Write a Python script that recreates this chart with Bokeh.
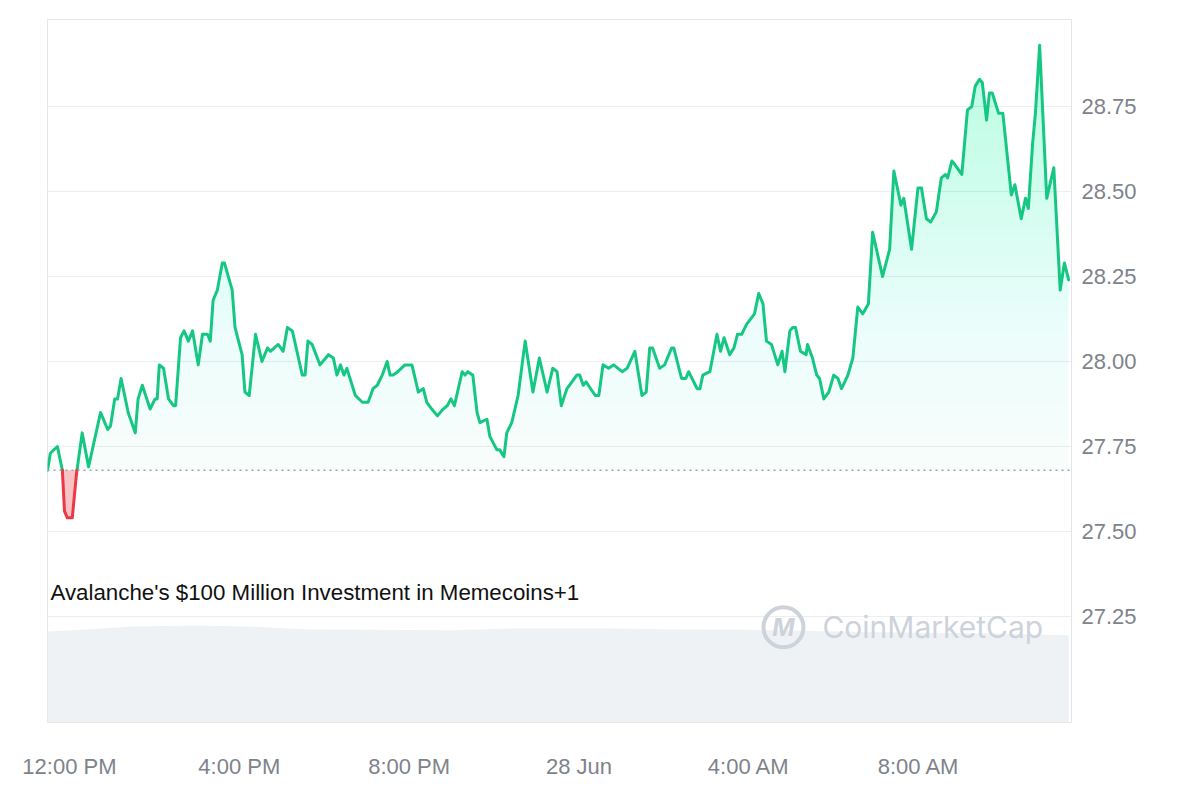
import numpy as np
import pandas as pd
from bokeh.plotting import figure
from bokeh.models import (Range1d, FixedTicker, CustomJSTickFormatter, Span, Label,
                          NumeralTickFormatter)
from bokeh.core.properties import value
from bokeh.embed import file_html
from bokeh.resources import INLINE

# ---------------- data ----------------
times = [
    "2024-06-27 11:29", "2024-06-27 11:33", "2024-06-27 11:43", "2024-06-27 11:50", "2024-06-27 11:53",
    "2024-06-27 11:57", "2024-06-27 12:04", "2024-06-27 12:10", "2024-06-27 12:18", "2024-06-27 12:27",
    "2024-06-27 12:44", "2024-06-27 12:54", "2024-06-27 12:58", "2024-06-27 13:04", "2024-06-27 13:08",
    "2024-06-27 13:13", "2024-06-27 13:23", "2024-06-27 13:33", "2024-06-27 13:37", "2024-06-27 13:43",
    "2024-06-27 13:54", "2024-06-27 14:01", "2024-06-27 14:04", "2024-06-27 14:07", "2024-06-27 14:13",
    "2024-06-27 14:20", "2024-06-27 14:27", "2024-06-27 14:30", "2024-06-27 14:37", "2024-06-27 14:42",
    "2024-06-27 14:48", "2024-06-27 14:54", "2024-06-27 15:02", "2024-06-27 15:08", "2024-06-27 15:15",
    "2024-06-27 15:19", "2024-06-27 15:23", "2024-06-27 15:29", "2024-06-27 15:36", "2024-06-27 15:39",
    "2024-06-27 15:50", "2024-06-27 15:54", "2024-06-27 16:04", "2024-06-27 16:08", "2024-06-27 16:14",
    "2024-06-27 16:23", "2024-06-27 16:32", "2024-06-27 16:40", "2024-06-27 16:44", "2024-06-27 16:55",
    "2024-06-27 17:02", "2024-06-27 17:08", "2024-06-27 17:15", "2024-06-27 17:29", "2024-06-27 17:33",
    "2024-06-27 17:37", "2024-06-27 17:43", "2024-06-27 17:54", "2024-06-27 18:06", "2024-06-27 18:13",
    "2024-06-27 18:18", "2024-06-27 18:23", "2024-06-27 18:28", "2024-06-27 18:32", "2024-06-27 18:44",
    "2024-06-27 18:54", "2024-06-27 19:02", "2024-06-27 19:09", "2024-06-27 19:15", "2024-06-27 19:22",
    "2024-06-27 19:29", "2024-06-27 19:33", "2024-06-27 19:37", "2024-06-27 19:44", "2024-06-27 19:54",
    "2024-06-27 20:04", "2024-06-27 20:13", "2024-06-27 20:20", "2024-06-27 20:25", "2024-06-27 20:32",
    "2024-06-27 20:40", "2024-06-27 20:48", "2024-06-27 20:54", "2024-06-27 20:59", "2024-06-27 21:04",
    "2024-06-27 21:15", "2024-06-27 21:19", "2024-06-27 21:23", "2024-06-27 21:30", "2024-06-27 21:36",
    "2024-06-27 21:40", "2024-06-27 21:50", "2024-06-27 21:54", "2024-06-27 22:04", "2024-06-27 22:08",
    "2024-06-27 22:14", "2024-06-27 22:18", "2024-06-27 22:25", "2024-06-27 22:34", "2024-06-27 22:44",
    "2024-06-27 22:55", "2024-06-27 23:04", "2024-06-27 23:15", "2024-06-27 23:23", "2024-06-27 23:29",
    "2024-06-27 23:35", "2024-06-27 23:43", "2024-06-27 23:57", "2024-06-28 00:01", "2024-06-28 00:06",
    "2024-06-28 00:10", "2024-06-28 00:23", "2024-06-28 00:28", "2024-06-28 00:34", "2024-06-28 00:42",
    "2024-06-28 00:49", "2024-06-28 01:01", "2024-06-28 01:08", "2024-06-28 01:19", "2024-06-28 01:29",
    "2024-06-28 01:35", "2024-06-28 01:40", "2024-06-28 01:44", "2024-06-28 01:54", "2024-06-28 02:01",
    "2024-06-28 02:11", "2024-06-28 02:14", "2024-06-28 02:25", "2024-06-28 02:31", "2024-06-28 02:35",
    "2024-06-28 02:47", "2024-06-28 02:51", "2024-06-28 02:55", "2024-06-28 03:05", "2024-06-28 03:15",
    "2024-06-28 03:20", "2024-06-28 03:25", "2024-06-28 03:33", "2024-06-28 03:39", "2024-06-28 03:44",
    "2024-06-28 03:50", "2024-06-28 03:57", "2024-06-28 04:08", "2024-06-28 04:14", "2024-06-28 04:20",
    "2024-06-28 04:25", "2024-06-28 04:32", "2024-06-28 04:41", "2024-06-28 04:47", "2024-06-28 04:51",
    "2024-06-28 04:58", "2024-06-28 05:02", "2024-06-28 05:06", "2024-06-28 05:13", "2024-06-28 05:21",
    "2024-06-28 05:23", "2024-06-28 05:30", "2024-06-28 05:36", "2024-06-28 05:40", "2024-06-28 05:46",
    "2024-06-28 05:53", "2024-06-28 06:00", "2024-06-28 06:06", "2024-06-28 06:11", "2024-06-28 06:20",
    "2024-06-28 06:27", "2024-06-28 06:34", "2024-06-28 06:41", "2024-06-28 06:49", "2024-06-28 06:55",
    "2024-06-28 07:09", "2024-06-28 07:19", "2024-06-28 07:25", "2024-06-28 07:35", "2024-06-28 07:39",
    "2024-06-28 07:50", "2024-06-28 07:59", "2024-06-28 08:04", "2024-06-28 08:11", "2024-06-28 08:17",
    "2024-06-28 08:25", "2024-06-28 08:32", "2024-06-28 08:38", "2024-06-28 08:41", "2024-06-28 08:47",
    "2024-06-28 08:51", "2024-06-28 09:01", "2024-06-28 09:09", "2024-06-28 09:15", "2024-06-28 09:20",
    "2024-06-28 09:26", "2024-06-28 09:30", "2024-06-28 09:36", "2024-06-28 09:40", "2024-06-28 09:44",
    "2024-06-28 09:53", "2024-06-28 09:59", "2024-06-28 10:11", "2024-06-28 10:16", "2024-06-28 10:25",
    "2024-06-28 10:31", "2024-06-28 10:35", "2024-06-28 10:41", "2024-06-28 10:45", "2024-06-28 10:51",
    "2024-06-28 11:01", "2024-06-28 11:11", "2024-06-28 11:20", "2024-06-28 11:26", "2024-06-28 11:32",
]
prices = [
    27.68, 27.73, 27.75, 27.68, 27.56, 27.54, 27.54, 27.67, 27.79, 27.69,
    27.85, 27.80, 27.81, 27.89, 27.89, 27.95, 27.85, 27.79, 27.89, 27.93,
    27.86, 27.89, 27.89, 27.99, 27.98, 27.89, 27.87, 27.87, 28.07, 28.09,
    28.06, 28.09, 27.99, 28.08, 28.08, 28.06, 28.18, 28.21, 28.29, 28.29,
    28.21, 28.10, 28.02, 27.91, 27.90, 28.08, 28.00, 28.04, 28.03, 28.05,
    28.03, 28.10, 28.09, 27.96, 27.96, 28.06, 28.05, 27.99, 28.02, 28.01,
    27.96, 27.99, 27.96, 27.98, 27.90, 27.88, 27.88, 27.92, 27.93, 27.96,
    28.00, 27.96, 27.96, 27.97, 27.99, 27.99, 27.91, 27.92, 27.88, 27.86,
    27.84, 27.86, 27.87, 27.89, 27.87, 27.97, 27.96, 27.97, 27.96, 27.85,
    27.82, 27.83, 27.78, 27.74, 27.74, 27.72, 27.79, 27.82, 27.90, 28.06,
    27.91, 28.01, 27.91, 27.98, 27.97, 27.87, 27.92, 27.96, 27.96, 27.93,
    27.94, 27.90, 27.90, 27.99, 27.98, 27.99, 27.97, 27.98, 28.03, 27.90,
    27.91, 28.04, 28.04, 27.98, 27.99, 28.04, 28.04, 27.95, 27.95, 27.97,
    27.92, 27.92, 27.96, 27.97, 28.08, 28.03, 28.07, 28.02, 28.04, 28.08,
    28.08, 28.11, 28.14, 28.20, 28.17, 28.06, 28.05, 27.99, 28.03, 27.97,
    28.09, 28.10, 28.10, 28.03, 28.02, 28.05, 28.01, 27.96, 27.95, 27.89,
    27.91, 27.96, 27.95, 27.92, 27.96, 28.01, 28.16, 28.14, 28.17, 28.38,
    28.25, 28.33, 28.56, 28.46, 28.48, 28.33, 28.51, 28.51, 28.42, 28.41,
    28.44, 28.54, 28.55, 28.54, 28.59, 28.58, 28.55, 28.74, 28.75, 28.81,
    28.83, 28.82, 28.71, 28.79, 28.79, 28.73, 28.73, 28.49, 28.52, 28.42,
    28.48, 28.45, 28.64, 28.73, 28.93, 28.48, 28.57, 28.21, 28.29, 28.24,
]

# 24h trading volume (millions of USD), shown as the grey band at the bottom
volume_times = [
    "2024-06-27 11:29", "2024-06-27 12:30", "2024-06-27 13:30", "2024-06-27 15:00",
    "2024-06-27 16:30", "2024-06-27 17:30", "2024-06-27 19:00", "2024-06-27 21:00",
    "2024-06-27 22:30", "2024-06-28 00:30", "2024-06-28 02:00", "2024-06-28 04:00",
    "2024-06-28 05:30", "2024-06-28 07:30", "2024-06-28 09:30", "2024-06-28 11:32",
]
volumes = [198, 203, 209, 211, 208, 203, 202, 201, 205, 205, 203, 202, 199, 196, 194, 190]

x_tick_times = ["2024-06-27 12:00", "2024-06-27 16:00", "2024-06-27 20:00",
                "2024-06-28 00:00", "2024-06-28 04:00", "2024-06-28 08:00"]
x_tick_labels = ["12:00 PM", "4:00 PM", "8:00 PM", "28 Jun", "4:00 AM", "8:00 AM"]
y_ticks = [27.25, 27.50, 27.75, 28.00, 28.25, 28.50, 28.75]

event_text = "Avalanche's $100 Million Investment in Memecoins+1"
watermark_text = "CoinMarketCap"

# ---------------- styling constants ----------------
GREEN = "#16c784"
RED = "#ea3943"
AXIS_TEXT = "#7e838b"
GRID = "#eceef1"
VOL_COLOR = "#eff2f5"
WM_COLOR = "#cdd2db"
FONT = "Liberation Sans"

EPOCH = pd.Timestamp("1970-01-01")


def to_ms(ts):
    t = pd.to_datetime(pd.Series(ts))
    return ((t - EPOCH) / pd.Timedelta(milliseconds=1)).to_numpy(dtype=float)


x = to_ms(times)
y = np.asarray(prices, dtype=float)
base = y[0]

vx = to_ms(volume_times)
vy = np.asarray(volumes, dtype=float)
tick_ms = [float(v) for v in to_ms(x_tick_times)]

# gradient levels for the area fill
N_LEV = 40
levels = np.linspace(base, y.max(), N_LEV + 1)[:-1]


def refine(xv, yv, lev):
    """add the exact points where the polyline crosses each level (for clean fills)"""
    xs, ys = [xv[0]], [yv[0]]
    for i in range(len(xv) - 1):
        x0, x1, y0, y1 = xv[i], xv[i + 1], yv[i], yv[i + 1]
        if y1 != y0:
            lo, hi = min(y0, y1), max(y0, y1)
            c = lev[(lev > lo) & (lev < hi)]
            tt = np.sort((c - y0) / (y1 - y0))
            for tv in tt:
                xs.append(x0 + tv * (x1 - x0))
                ys.append(y0 + tv * (y1 - y0))
        xs.append(x1)
        ys.append(y1)
    return np.array(xs), np.array(ys)


xr, yr = refine(x, y, np.unique(np.append(levels, base)))

# ---------------- figure ----------------
x_start = x[0]
x_end = x[-1] + 4 * 60 * 1000
p = figure(width=1192, height=792, x_axis_type="datetime", y_axis_location="right",
           x_range=Range1d(x_start, x_end), y_range=Range1d(26.938, 29.006),
           output_backend="svg", toolbar_location=None,
           min_border_left=47, min_border_top=19, min_border_right=121, min_border_bottom=70,
           background_fill_color="white", border_fill_color="white")
p.outline_line_color = "#e3e5e9"
p.outline_line_width = 1

p.extra_y_ranges = {"vol": Range1d(0, 1530)}

# volume band
p.varea(x=vx, y1=0, y2=vy, y_range_name="vol", fill_color=VOL_COLOR, fill_alpha=1.0)

# green gradient fill (cumulative translucent bands)
def target_alpha(v):
    return 0.03 + 0.17 * (v - base)

prev = 0.0
for lev in levels:
    tgt = target_alpha(lev)
    inc = 1 - (1 - tgt) / (1 - prev)
    prev = tgt
    p.varea(x=xr, y1=lev, y2=np.maximum(yr, lev), fill_color=GREEN, fill_alpha=float(inc))

# red fill below the opening price
p.varea(x=xr, y1=np.minimum(yr, base), y2=base, fill_color=RED, fill_alpha=0.3)

# opening-price dotted line
p.add_layout(Span(location=base, dimension="width", line_color="#9aa3b5",
                  line_dash="2 4", line_width=1.5))

g = yr.copy()
g[yr < base - 1e-9] = np.nan
r = yr.copy()
r[yr > base + 1e-9] = np.nan
p.line(xr, g, line_color=GREEN, line_width=3, line_join="round", line_cap="round")
p.line(xr, r, line_color=RED, line_width=3, line_join="round", line_cap="round")

# event caption (anchored at its vertical middle)
p.add_layout(Label(x=x[0], y=27.321, x_offset=3, text=event_text, text_font=FONT,
                   text_font_size="22.3px", text_color="#111111", text_baseline="middle"))

# watermark
logo_x = to_ms(["2024-06-28 04:49"])[0]
wm_x = to_ms(["2024-06-28 05:44"])[0]
p.scatter(x=[logo_x], y=[27.218], marker="circle", size=40, fill_color=None,
          line_color=WM_COLOR, line_width=4)
p.text(x=[logo_x], y=[27.218], text=["M"], text_font=value("Inter"), text_font_size="24px",
       text_font_style="bold italic", text_align="center", text_baseline="middle",
       text_color=WM_COLOR)
p.add_layout(Label(x=wm_x, y=27.218, text=watermark_text, text_font="Inter",
                   text_font_size="30px", text_color=WM_COLOR, text_baseline="middle"))

# axes
p.xgrid.visible = False
p.ygrid.grid_line_color = GRID
p.ygrid.grid_line_width = 1

xa = p.xaxis[0]
xa.ticker = FixedTicker(ticks=tick_ms)
xa.formatter = CustomJSTickFormatter(args=dict(tick_vals=tick_ms, tick_names=x_tick_labels),
                                     code="const i = tick_vals.indexOf(tick); return i < 0 ? '' : tick_names[i];")
ya = p.yaxis[0]
ya.ticker = FixedTicker(ticks=y_ticks)
ya.formatter = NumeralTickFormatter(format="0.00")

for ax in (xa, ya):
    ax.axis_line_color = None
    ax.major_tick_line_color = None
    ax.minor_tick_line_color = None
    ax.major_label_text_font = FONT
    ax.major_label_text_font_size = "22px"
    ax.major_label_text_color = AXIS_TEXT
xa.major_label_standoff = 25
ya.major_label_standoff = 4

open("out.html", "w").write(file_html(p, INLINE))
